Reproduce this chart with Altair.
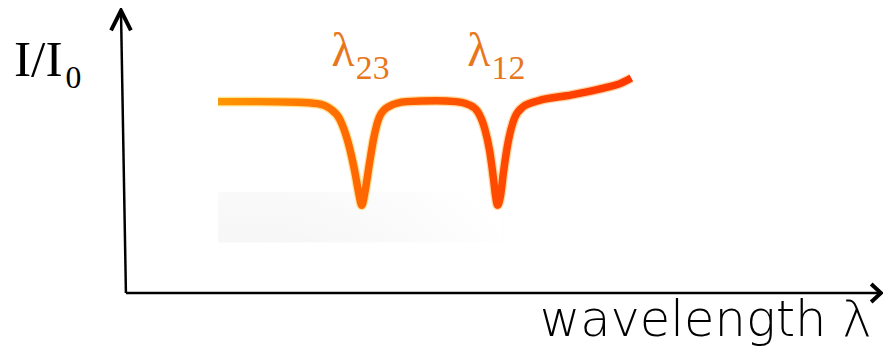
import altair as alt
import pandas as pd

# ---- data (arbitrary units) ----
wavelength = [12.30, 17.59, 22.88, 25.53, 27.25, 28.57, 29.76, 30.56, 31.08, 31.48,
              31.88, 32.41, 33.07, 33.86, 35.05, 37.43, 41.40, 44.05, 45.77, 46.96,
              47.88, 48.54, 49.07, 49.34, 49.60, 50.00, 50.40, 51.06, 51.85, 53.04,
              55.03, 59.52, 63.89, 65.87, 67.46]
intensity = [0.680, 0.680, 0.678, 0.673, 0.655, 0.616, 0.525, 0.430, 0.355, 0.312,
             0.355, 0.444, 0.549, 0.627, 0.662, 0.680, 0.683, 0.680, 0.669, 0.644,
             0.585, 0.507, 0.405, 0.345, 0.312, 0.345, 0.430, 0.542, 0.620, 0.662,
             0.683, 0.704, 0.729, 0.743, 0.764]
dip_wavelength = [31.48, 49.60]
dip_subscript = ["23", "12"]

# axis arrows (data units)
axis_x = [0.0, 0.0]
axis_y = [0.0, 0.0]
axis_x2 = [100.79, -0.66]
axis_y2 = [0.0, 1.0035]

curve = pd.DataFrame({"wavelength": wavelength, "intensity": intensity})
dips = pd.DataFrame({"wavelength": dip_wavelength, "sub": dip_subscript})
axes = pd.DataFrame({"x": axis_x, "y": axis_y, "x2": axis_x2, "y2": axis_y2})

xs = alt.Scale(domain=[0, 100], range=[119, 875])
ys = alt.Scale(domain=[0, 1], range=[286, 2])
X = lambda f: alt.X(f, type="quantitative", scale=xs, axis=None)
Y = lambda f: alt.Y(f, type="quantitative", scale=ys, axis=None)

SERIF = "Liberation Serif, Times New Roman, DejaVu Serif, serif"

shadow = alt.Chart(pd.DataFrame({"a": [0]})).mark_rect(
    color={"gradient": "radial", "x1": 0.1, "y1": 1.25, "r1": 0, "x2": 0.1, "y2": 1.25, "r2": 1.15,
           "stops": [{"offset": 0, "color": "#eeeeee"},
                     {"offset": 0.55, "color": "#f6f6f6"},
                     {"offset": 1, "color": "#ffffff"}]}
).encode(x=alt.value(212), x2=alt.value(500), y=alt.value(184), y2=alt.value(235))

axis_rules = alt.Chart(axes).mark_rule(color="black", strokeWidth=2.5).encode(
    x=X("x"), y=Y("y"), x2="x2", y2="y2")

x_head = alt.Chart(axes.iloc[[0]]).mark_point(
    shape="M-1.1,-1L0,0L-1.1,1", filled=False, color="black", strokeWidth=4,
    size=324, opacity=1, strokeJoin="miter").encode(x=X("x2"), y=Y("y2"))
y_head = alt.Chart(axes.iloc[[1]]).mark_point(
    shape="M-1,2L0,0L1,2", filled=False, color="black", strokeWidth=4,
    size=400, opacity=1, strokeJoin="miter").encode(x=X("x2"), y=Y("y2"))

glow = alt.Chart(curve).mark_line(
    interpolate="monotone", strokeWidth=10, strokeCap="butt", opacity=0.6,
    color={"gradient": "linear", "x1": 0, "y1": 0, "x2": 1, "y2": 0,
           "stops": [{"offset": 0, "color": "#ffd84a"}, {"offset": 1, "color": "#ffb070"}]}
).encode(x=X("wavelength"), y=Y("intensity"), order="wavelength")

core = alt.Chart(curve).mark_line(
    interpolate="monotone", strokeWidth=7.5, strokeCap="butt",
    color={"gradient": "linear", "x1": 0, "y1": 0, "x2": 1, "y2": 0,
           "stops": [{"offset": 0, "color": "#ff9600"},
                     {"offset": 0.3, "color": "#ff6c00"},
                     {"offset": 0.65, "color": "#ff4c00"},
                     {"offset": 1, "color": "#ff3800"}]}
).encode(x=X("wavelength"), y=Y("intensity"), order="wavelength")

lam = alt.Chart(dips).mark_text(
    text="λ", font=SERIF, fontSize=48, color="#e8761b",
    align="center", baseline="alphabetic", dx=-19).encode(x=X("wavelength"), y=alt.value(57))
sub = alt.Chart(dips).mark_text(
    font=SERIF, fontSize=34, color="#e8761b",
    align="center", baseline="alphabetic", dx=11).encode(
    x=X("wavelength"), y=alt.value(70), text="sub:N")

ii = alt.Chart(pd.DataFrame({"t": ["I/I"]})).mark_text(
    font=SERIF, fontSize=52, color="black", align="left",
    baseline="alphabetic").encode(x=alt.value(6), y=alt.value(67), text="t:N")
i0 = alt.Chart(pd.DataFrame({"t": ["0"]})).mark_text(
    font=SERIF, fontSize=32, color="black", align="left",
    baseline="alphabetic").encode(x=alt.value(58), y=alt.value(79), text="t:N")
wl = alt.Chart(pd.DataFrame({"t": ["wavelength λ"]})).mark_text(
    font="DejaVu Sans", fontSize=50, fontWeight=300, color="black", align="center",
    baseline="alphabetic").encode(x=alt.value(704), y=alt.value(329), text="t:N")

chart = alt.layer(shadow, axis_rules, x_head, y_head, glow, core, lam, sub, ii, i0, wl).properties(
    width=883, height=353, autosize=alt.AutoSizeParams(type="none"), padding=0
).configure_view(stroke=None)

chart.save("out.html", embed_options={"renderer": "svg", "actions": False})
